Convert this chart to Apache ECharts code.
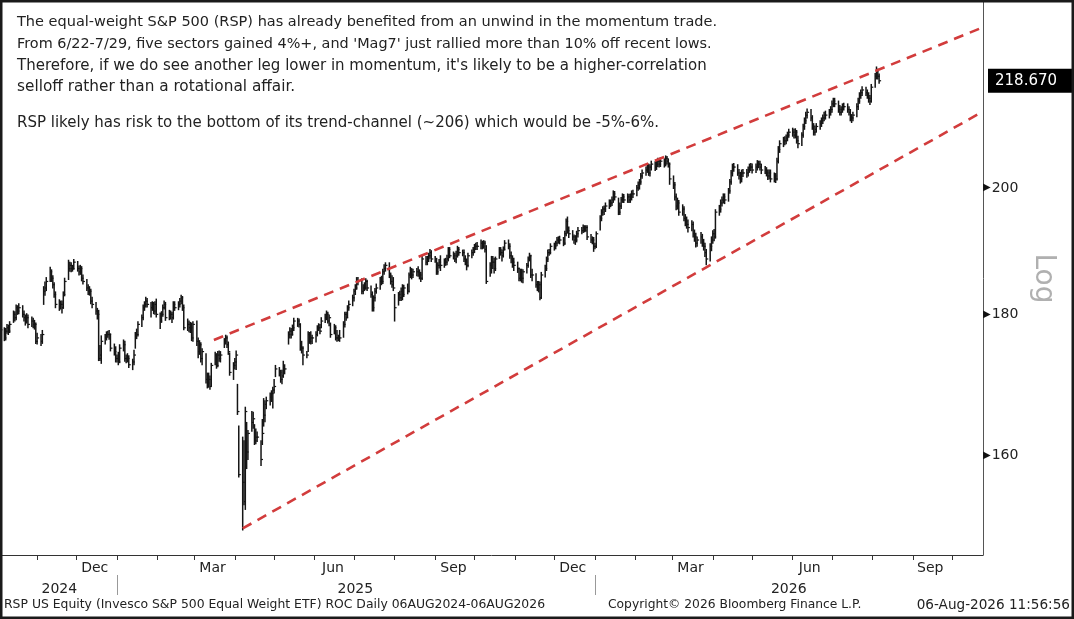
<!DOCTYPE html>
<html><head><meta charset="utf-8">
<script src="https://cdn.jsdelivr.net/npm/echarts@6/dist/echarts.min.js"></script>
<style>html,body{margin:0;padding:0;background:#fff}#c{width:1074px;height:619px}</style>
</head><body><div id="c"></div>
<script>
// ---------- DATA ----------
const lastDate = [2026, 7, 6]; // 06-Aug-2026 (last bar)
const closes = [
177.7,
176.5,177.5,178.0,177.5,178.5,
180.0,179.5,181.0,180.5,181.0,
180.0,179.5,179.0,179.5,178.5,
179.0,178.5,178.5,176.0,176.5,
176.0,177.0,183.5,184.0,185.0,
186.5,185.5,184.5,183.0,181.5,
181.5,181.5,181.0,183.0,185.0,
187.0,187.5,187.0,187.0,188.0,
187.0,186.5,187.0,185.5,185.0,
184.0,183.5,183.5,182.0,181.5,
180.5,180.0,173.5,174.0,176.0,
176.5,177.0,177.0,177.0,175.0,
174.5,173.5,173.5,173.0,175.0,
175.5,173.5,173.5,173.5,172.6,
173.0,174.0,177.0,177.0,178.5,
179.5,181.0,181.5,182.0,181.5,
181.0,181.5,180.5,181.5,180.0,
179.0,180.0,181.0,181.5,179.5,
180.0,180.0,179.5,181.5,181.0,
181.5,182.0,182.5,181.0,178.0,
178.5,178.0,178.0,176.5,178.5,
176.0,174.5,175.5,173.5,174.5,
170.5,170.0,170.5,169.5,172.5,
174.0,172.5,174.0,173.5,174.0,
176.0,176.5,175.5,174.5,171.5,
172.5,173.0,174.0,166.0,157.5,
156.5,154.0,166.0,160.5,163.0,
164.5,165.0,162.0,162.5,162.5,
159.5,163.0,165.5,167.0,167.5,
168.0,168.5,169.0,169.5,172.0,
171.5,170.5,171.0,172.0,172.0,
177.0,177.5,177.0,178.0,179.0,
179.0,178.5,175.0,175.0,174.0,
174.0,177.0,176.0,176.5,176.5,
177.0,178.0,178.0,177.5,179.0,
179.5,180.0,179.0,179.5,177.0,
178.0,176.5,176.5,176.5,176.5,
178.5,180.0,179.5,181.0,181.5,
182.5,183.5,184.0,185.0,185.0,
183.5,184.0,184.0,185.0,184.0,
183.0,181.0,182.5,183.5,184.0,
185.0,185.0,186.5,187.0,187.5,
186.0,185.0,184.5,184.0,181.0,
183.0,182.5,183.5,183.0,184.0,
183.5,186.0,186.5,186.0,186.5,
186.5,186.5,186.0,185.5,188.5,
188.0,188.5,189.0,189.5,188.5,
188.5,186.5,187.5,188.0,187.5,
188.0,188.0,188.5,190.0,189.0,
189.0,188.5,189.0,190.0,189.5,
189.5,188.5,188.0,187.5,189.0,
189.5,190.0,190.5,190.5,190.5,
191.0,190.5,191.0,190.0,185.0,
187.5,188.0,188.0,187.0,188.5,
190.0,189.5,189.0,190.0,191.0,
190.5,189.0,188.5,188.0,187.5,
187.0,185.5,186.5,185.5,186.5,
187.5,188.5,189.0,186.0,186.0,
184.5,184.0,184.5,182.5,186.0,
187.0,188.5,189.5,189.5,190.5,
190.5,191.0,191.5,191.5,191.5,
191.0,192.5,194.5,193.0,192.5,
192.0,191.5,191.5,192.5,193.0,
193.0,193.5,193.0,193.5,192.0,
191.5,191.5,190.5,190.5,192.5,
195.0,196.0,196.5,196.5,197.0,
197.5,197.5,198.0,199.0,198.5,
196.0,197.0,198.0,198.5,198.0,
198.5,198.0,198.5,199.0,199.0,
200.0,200.5,201.0,202.0,202.5,
203.0,203.5,202.5,203.5,204.0,
203.5,204.0,204.5,204.0,204.5,
204.0,205.0,204.5,204.0,201.5,
200.5,198.5,197.0,197.5,196.0,
196.5,195.0,194.5,194.0,193.5,
194.0,192.5,192.0,191.0,191.5,
192.0,191.0,190.5,189.5,188.5,
190.5,191.5,192.5,192.0,196.0,
196.5,197.5,198.0,198.5,198.0,
199.5,201.0,202.5,203.5,203.5,
202.5,202.0,201.5,202.5,202.5,
202.5,203.0,203.5,203.5,203.0,
203.5,204.0,204.0,203.5,203.0,
203.0,202.5,202.0,202.5,201.5,
202.0,201.5,204.5,206.5,207.5,
208.0,208.0,208.5,209.0,209.5,
209.5,209.0,209.5,208.0,207.5,
209.0,210.5,211.5,212.5,213.0,
212.0,210.5,209.5,210.0,210.5,
211.0,211.5,212.0,212.5,212.5,
213.0,213.5,214.5,215.0,214.5,
213.5,213.0,213.5,214.0,214.0,
213.5,213.0,212.0,212.0,212.5,
214.0,215.0,216.0,216.5,217.0,
216.5,216.0,215.5,215.0,217.5,
219.5,220.5,219.5,218.67
];
const highs = [
178.3,
178.0,177.9,178.5,178.4,178.9,
180.5,180.4,181.4,181.3,181.6,
181.3,180.5,179.9,180.1,179.9,
179.6,179.4,179.1,178.7,177.2,
177.0,177.6,184.2,184.9,185.6,
187.2,186.8,185.9,184.8,183.4,
182.2,182.0,182.0,183.4,185.5,
188.3,188.0,187.9,187.5,188.4,
188.1,187.4,187.5,187.3,186.0,
185.3,184.5,184.2,183.8,182.6,
181.8,180.9,180.6,175.4,176.8,
177.0,177.4,177.5,177.6,177.1,
175.6,175.2,174.0,174.4,175.5,
176.2,176.0,174.0,174.2,173.9,
173.4,174.7,177.3,177.8,178.9,
179.9,181.4,181.9,182.6,182.4,
181.8,181.9,181.8,181.9,182.3,
180.2,180.4,181.4,182.0,181.8,
180.6,180.5,180.3,181.9,181.9,
181.9,182.4,182.9,182.7,181.4,
179.3,179.0,178.8,178.7,178.9,
179.0,176.5,176.1,175.8,174.9,
174.2,171.4,171.4,171.0,172.8,
174.4,174.2,174.5,174.6,174.5,
176.4,176.9,176.8,175.9,174.3,
172.9,173.5,174.6,169.8,164.0,
162.5,162.0,166.6,164.5,163.4,
166.0,165.9,164.2,163.6,163.2,
162.0,164.9,167.8,167.5,168.0,
168.6,168.9,169.4,170.5,172.5,
172.2,171.8,171.8,173.1,172.6,
177.4,178.0,177.9,178.4,179.4,
179.4,179.3,178.6,176.0,175.2,
174.5,177.4,177.3,177.4,176.9,
177.4,178.3,178.6,178.5,179.5,
180.0,180.5,180.3,179.9,178.7,
178.5,178.3,177.6,176.9,177.6,
178.9,180.3,180.3,181.3,182.0,
182.9,183.8,184.5,185.6,185.6,
185.4,184.5,184.8,185.4,185.2,
184.3,183.4,182.8,183.9,184.6,
185.6,185.8,186.9,187.6,187.9,
187.9,186.3,185.9,185.6,183.0,
183.3,183.5,184.0,184.5,184.4,
184.6,186.3,187.2,187.0,186.9,
187.0,187.3,186.8,186.4,188.9,
188.9,188.9,189.4,190.0,189.8,
188.9,188.6,187.9,188.4,189.0,
188.5,188.6,189.1,190.3,190.3,
189.6,189.4,189.7,190.5,190.3,
189.9,189.9,189.0,188.5,189.4,
189.9,190.3,190.8,191.0,191.1,
191.5,191.3,191.4,191.3,190.6,
187.9,188.9,188.9,188.6,188.8,
190.3,190.3,189.9,190.4,191.4,
191.5,190.9,189.6,189.0,188.6,
188.0,187.1,186.9,186.9,186.8,
187.8,188.8,189.4,189.1,186.9,
186.2,185.0,185.0,184.9,186.4,
187.5,188.8,189.9,190.0,190.9,
191.0,191.3,191.9,192.0,192.1,
191.9,192.9,194.9,195.2,193.6,
193.0,192.3,192.2,192.9,193.5,
193.5,193.9,193.8,193.8,193.8,
192.4,192.0,191.9,191.0,192.8,
195.4,196.4,196.9,197.0,197.5,
198.0,198.0,198.5,199.5,199.4,
198.3,197.5,198.4,199.0,198.9,
199.0,198.9,199.0,199.5,199.6,
200.4,201.0,201.4,202.4,203.0,
203.5,203.9,204.0,203.9,204.5,
204.4,204.5,205.0,204.9,205.1,
204.9,205.4,205.3,204.9,204.2,
202.0,200.9,199.0,198.3,197.9,
197.2,196.9,195.6,195.2,194.7,
194.6,194.4,193.1,192.6,192.0,
192.7,192.4,191.6,191.0,190.0,
190.9,192.0,193.0,193.2,196.4,
197.1,198.0,198.5,199.0,199.0,
199.9,201.4,202.9,204.0,204.1,
203.9,203.1,202.6,203.0,203.1,
203.1,203.5,204.0,204.1,204.0,
204.0,204.6,204.5,204.5,204.0,
203.6,203.4,203.0,203.0,203.0,
202.5,202.4,205.0,207.0,208.0,
208.6,208.7,209.0,209.5,210.0,
210.2,210.0,210.1,209.8,208.8,
209.4,210.9,212.0,213.0,213.6,
213.5,212.4,211.0,210.6,211.0,
211.5,212.0,212.5,213.0,213.2,
213.5,214.0,215.0,215.5,215.5,
215.0,214.2,214.0,214.5,214.6,
214.5,214.0,213.5,212.6,213.0,
214.5,215.5,216.5,217.0,217.6,
217.5,217.0,216.5,216.0,218.0,
220.0,221.2,220.8,219.9
];
const lows = [
176.9,
176.1,176.2,177.2,177.0,177.3,
178.8,179.0,179.2,180.0,180.1,
179.6,179.0,178.4,178.7,178.0,
178.2,178.0,177.8,175.7,175.6,
175.4,175.7,181.5,182.9,183.6,
185.0,185.0,184.0,182.6,181.0,
180.6,180.8,180.2,180.9,182.8,
185.3,186.6,186.5,186.6,186.9,
186.6,186.0,186.1,185.1,184.6,
183.6,183.0,182.9,181.6,181.0,
180.0,179.3,173.2,173.2,172.8,
175.6,176.2,176.6,176.3,174.6,
174.0,173.0,173.0,172.6,172.9,
174.6,173.1,172.9,173.0,172.2,
171.9,172.6,175.0,176.4,176.8,
178.2,179.2,180.6,181.1,181.1,
179.6,180.6,180.1,180.0,179.6,
177.9,178.8,179.7,180.8,179.1,
179.2,179.3,178.8,179.3,180.6,
180.7,181.1,181.6,180.6,177.7,
177.6,177.4,177.3,176.1,176.0,
175.4,173.6,174.1,173.0,172.6,
170.0,169.3,169.4,169.1,169.6,
172.6,172.1,172.3,173.1,173.0,
175.1,175.6,175.1,174.1,171.1,
170.5,172.0,171.9,165.6,157.2,
150.4,153.6,153.0,158.3,159.5,
163.3,163.7,161.5,161.6,161.9,
158.7,161.5,164.0,164.6,166.4,
166.9,167.4,166.5,168.6,170.9,
171.0,170.1,169.9,170.8,171.3,
175.6,176.5,176.5,176.9,177.6,
178.2,178.1,174.7,174.3,172.6,
173.6,174.5,175.7,175.6,175.7,
175.9,176.8,177.6,177.1,178.0,
178.8,179.2,178.7,178.3,176.6,
177.1,176.2,176.0,176.1,176.0,
176.6,178.1,179.1,179.5,180.6,
181.3,182.0,183.0,183.8,184.5,
183.1,183.1,183.6,183.8,183.6,
182.6,180.5,180.5,182.0,183.2,
183.8,184.5,184.7,186.1,186.6,
185.6,184.6,184.1,183.6,179.0,
181.4,182.1,182.1,182.2,182.7,
183.1,183.4,185.6,185.4,185.6,
185.9,185.8,185.4,185.0,185.3,
187.6,187.6,188.1,188.6,188.1,
188.0,186.1,186.1,187.1,186.7,
187.2,187.5,187.6,188.2,188.7,
188.5,188.1,187.9,188.8,189.1,
189.0,188.1,187.6,186.8,187.3,
188.7,189.1,189.5,190.0,190.0,
190.1,190.1,190.2,189.6,184.7,
185.8,186.3,187.0,186.3,186.7,
188.6,189.1,188.2,188.8,189.9,
190.1,188.6,187.9,187.2,186.7,
186.4,185.1,185.1,184.9,184.8,
186.3,187.2,188.2,185.6,185.1,
184.1,183.6,183.4,182.2,182.4,
185.7,186.7,188.1,189.1,189.3,
189.9,190.1,190.6,191.0,190.9,
190.6,190.8,192.2,192.6,191.9,
191.5,191.0,190.8,191.2,192.0,
192.5,192.7,192.8,192.9,191.6,
191.1,190.9,189.7,190.1,190.3,
193.1,194.6,195.5,195.6,196.1,
196.6,196.9,197.1,197.6,198.0,
195.6,195.6,196.6,197.6,197.6,
197.6,197.6,197.6,198.0,198.4,
198.7,199.6,199.8,200.6,201.6,
202.1,202.6,202.1,202.0,203.0,
202.9,203.1,203.6,203.5,203.6,
203.5,203.7,204.0,203.5,200.6,
199.9,198.0,196.4,196.5,195.5,
195.5,194.6,193.8,193.4,192.8,
193.0,192.0,191.3,190.4,190.5,
191.0,190.5,189.9,188.9,187.6,
188.2,189.8,191.0,191.4,191.8,
195.5,196.0,197.0,197.5,197.4,
197.8,199.1,200.6,202.0,202.8,
202.1,201.5,200.8,201.0,201.9,
201.8,202.0,202.6,202.9,202.5,
202.6,203.0,203.4,203.0,202.4,
202.4,202.0,201.4,201.5,201.0,
201.0,200.9,201.3,204.2,206.0,
207.0,207.3,207.5,208.0,208.6,
208.8,208.5,208.5,207.6,206.8,
207.2,208.6,210.0,211.0,212.0,
211.5,210.0,209.0,209.0,209.5,
210.0,210.5,211.0,211.5,211.8,
212.0,212.5,213.0,214.0,214.0,
213.0,212.5,212.5,213.0,213.4,
213.0,212.5,211.5,211.2,211.5,
212.2,213.5,214.6,215.5,216.0,
216.0,215.5,214.8,214.4,214.8,
217.5,219.0,219.0,218.2
];
const upperTrendDates = ['2025-03-16', '2026-10-24'];
const upperTrendValues = [176.2, 228.6];
const lowerTrendDates = ['2025-04-07', '2026-10-24'];
const lowerTrendValues = [150.6, 213.1];
const yTickValues = [160, 180, 200];
const lastPrice = 218.670;
const monthNames = ['Jan','Feb','Mar','Apr','May','Jun','Jul','Aug','Sep','Oct','Nov','Dec'];
const monthLabelDates = ['2024-12-15','2025-03-15','2025-06-15','2025-09-15','2025-12-15','2026-03-15','2026-06-14','2026-09-14'];
const yearLabelDates = ['2024-11-18','2025-07-02','2026-05-29'];
const yearSeparatorDates = ['2025-01-01','2026-01-01'];
const noteLines = [
  "The equal-weight S&P 500 (RSP) has already benefited from an unwind in the momentum trade.",
  "From 6/22-7/29, five sectors gained 4%+, and 'Mag7' just rallied more than 10% off recent lows.",
  "Therefore, if we do see another leg lower in momentum, it's likely to be a higher-correlation",
  "selloff rather than a rotational affair.",
  "RSP likely has risk to the bottom of its trend-channel (~206) which would be -5%-6%."
];
const footerLeft = "RSP US Equity (Invesco S&P 500 Equal Weight ETF) ROC Daily 06AUG2024-06AUG2026";
const footerMid = "Copyright\u00A9 2026 Bloomberg Finance L.P.";
const footerRight = "06-Aug-2026 11:56:56";

// ---------- LAYOUT / BUILD ----------
const FONT = 'DejaVu Sans';
const yRange = [147.3, 233.5];
const xRange = [new Date(2024, 9, 3, 16).getTime(), new Date(2026, 9, 24, 8).getTime()];
function ts(s) { const p = s.split('-').map(Number); return new Date(p[0], p[1] - 1, p[2]).getTime(); }

const n = Math.min(closes.length, highs.length, lows.length);
const dates = [];
{
  const d = new Date(lastDate[0], lastDate[1], lastDate[2]);
  while (dates.length < n) {
    const wd = d.getDay();
    if (wd !== 0 && wd !== 6) dates.push(d.getTime());
    d.setDate(d.getDate() - 1);
  }
  dates.reverse();
}
const barData = [];
for (let i = 0; i < n; i++) barData.push([dates[i], Math.log(lows[i]), Math.log(highs[i]), Math.log(closes[i])]);

const monthTicks = [];
{ const d = new Date(2024, 10, 1); while (d.getTime() < xRange[1]) { monthTicks.push(d.getTime()); d.setMonth(d.getMonth() + 1); } }

function renderBar(params, api) {
  const x = api.value(0);
  const lo = api.coord([x, api.value(1)]);
  const hi = api.coord([x, api.value(2)]);
  const cl = api.coord([x, api.value(3)]);
  return { type: 'group', children: [
    { type: 'line', shape: { x1: lo[0], y1: lo[1] + 0.5, x2: hi[0], y2: hi[1] - 0.5 }, style: { stroke: '#151515', lineWidth: 1.5 } },
    { type: 'line', shape: { x1: cl[0], y1: cl[1], x2: cl[0] + 2, y2: cl[1] }, style: { stroke: '#151515', lineWidth: 1.2 } }
  ]};
}

const trendStyle = { color: '#d23c3c', width: 2.6, type: [10, 7] };
const noteTops = [15, 37, 59, 80, 116];
const noteSizes = [14.5, 14.4, 15.0, 15.3, 15.0];

const chart = echarts.init(document.getElementById('c'), null, { renderer: 'canvas' });
chart.setOption({
  animation: false,
  backgroundColor: '#fff',
  grid: { left: 0, right: 91, top: 2, bottom: 64 },
  xAxis: [{
    type: 'value', min: xRange[0], max: xRange[1],
    axisLine: { show: true, lineStyle: { color: '#333', width: 1 } },
    axisTick: { show: true, length: 5, lineStyle: { color: '#333' }, customValues: monthTicks },
    axisLabel: { customValues: monthLabelDates.map(ts), margin: 6, color: '#222', fontSize: 14, fontFamily: FONT,
      formatter: v => monthNames[new Date(v).getMonth()] },
    splitLine: { show: false }
  }, {
    type: 'value', min: xRange[0], max: xRange[1], position: 'bottom', offset: 20,
    axisLine: { show: false },
    axisTick: { show: true, length: 20, lineStyle: { color: '#999' }, customValues: yearSeparatorDates.map(ts) },
    axisLabel: { customValues: yearLabelDates.map(ts), margin: 7, color: '#222', fontSize: 14, fontFamily: FONT,
      formatter: v => String(new Date(v).getFullYear()) },
    splitLine: { show: false }
  }],
  yAxis: {
    type: 'value', position: 'right', min: Math.log(yRange[0]), max: Math.log(yRange[1]),
    name: 'Log', nameLocation: 'middle', nameRotate: -90, nameGap: 46,
    nameTextStyle: { color: '#b0b0b0', fontSize: 28, fontFamily: FONT },
    axisLine: { show: true, lineStyle: { color: '#555', width: 1 } },
    axisTick: { show: false },
    axisLabel: { customValues: yTickValues.map(Math.log), margin: 0, color: '#222', fontSize: 14, fontFamily: FONT,
      formatter: v => '{t|\u25B6}' + Math.round(Math.exp(v)),
      rich: { t: { fontSize: 10, color: '#111', padding: [0, 1, 0, 0], fontFamily: FONT } } },
    splitLine: { show: false }
  },
  series: [
    { type: 'custom', name: 'RSP', renderItem: renderBar, data: barData, clip: true,
      encode: { x: 0, y: [1, 2, 3] }, silent: true },
    { type: 'line', name: 'upper', data: upperTrendDates.map((d, i) => [ts(d), Math.log(upperTrendValues[i])]),
      symbol: 'none', lineStyle: trendStyle, silent: true, z: 3 },
    { type: 'line', name: 'lower', data: lowerTrendDates.map((d, i) => [ts(d), Math.log(lowerTrendValues[i])]),
      symbol: 'none', lineStyle: trendStyle, silent: true, z: 3 },
    { type: 'line', name: 'last', data: [], symbol: 'none', silent: true, z: 10,
      markLine: { silent: true, symbol: ['none', 'none'], animation: false,
        lineStyle: { color: 'rgba(0,0,0,0)', width: 1, type: 'solid' },
        data: [{ yAxis: Math.log(lastPrice) }],
        label: { show: true, position: 'end', distance: 5, offset: [0, 3], formatter: lastPrice.toFixed(3), color: '#fff', backgroundColor: '#000',
          padding: [5, 19, 4, 7], fontSize: 15, fontFamily: FONT, opacity: 1 },
        emphasis: { disabled: true } } }
  ],
  graphic: [
    { type: 'rect', shape: { x: 1, y: 1, width: 1072, height: 617 }, style: { fill: 'none', stroke: '#1a1a1a', lineWidth: 3 }, silent: true, z: 100 },
    ...noteLines.map((t, i) => ({ type: 'text', left: 17, top: noteTops[i],
      style: { text: t, fill: '#222', font: noteSizes[i] + 'px "' + FONT + '"' } })),
    { type: 'text', left: 4, top: 599, style: { text: footerLeft, fill: '#222', font: '12.4px "' + FONT + '"' } },
    { type: 'text', left: 608, top: 599, style: { text: footerMid, fill: '#222', font: '12.3px "' + FONT + '"' } },
    { type: 'text', right: 4, top: 598, style: { text: footerRight, fill: '#222', font: '13.6px "' + FONT + '"' } }
  ]
});
</script>
</body></html>
